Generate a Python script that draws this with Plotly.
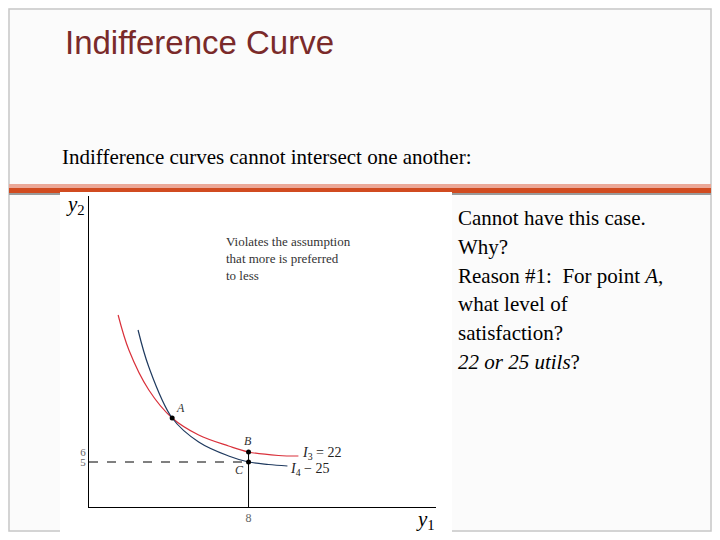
import plotly.graph_objects as go

red_x = [1.46, 2.0, 3.0, 4.17, 5.5, 7.0, 8.0, 9.5, 10.5]
red_y = [19.7, 16.2, 12.2, 9.4, 7.7, 6.6, 6.0, 5.65, 5.6]
blue_x = [2.46, 3.0, 4.17, 5.5, 7.0, 8.0, 9.0, 9.95]
blue_y = [18.2, 14.5, 9.4, 7.0, 5.6, 5.0, 4.75, 4.6]
pts_x = [4.17, 8.0, 8.0]
pts_y = [9.4, 6.0, 5.0]
xticks = [8]
yticks = [5, 6]

W, H = 704, 524
OFF = 8
def px(x): return (x - OFF) / W
def py(y): return 1 - (y - OFF) / H

fig = go.Figure()
fig.add_trace(go.Scatter(x=red_x, y=red_y, mode="lines", line=dict(color="#d9303a", width=1.2, shape="spline"), hoverinfo="skip"))
fig.add_trace(go.Scatter(x=blue_x, y=blue_y, mode="lines", line=dict(color="#1f3a5f", width=1.2, shape="spline"), hoverinfo="skip"))
fig.add_trace(go.Scatter(x=[0, 8], y=[5, 5], mode="lines", line=dict(color="black", width=1, dash="dash"), hoverinfo="skip"))
fig.add_trace(go.Scatter(x=[8, 8], y=[0.5, 6], mode="lines", line=dict(color="black", width=1), hoverinfo="skip"))
fig.add_trace(go.Scatter(x=pts_x, y=pts_y, mode="markers", marker=dict(color="black", size=5), hoverinfo="skip"))

shapes = [
    dict(type="rect", xref="paper", yref="paper", x0=px(9), x1=px(711), y0=0.002, y1=py(9),
         line=dict(color="#c8c8c8", width=1.5), fillcolor="rgba(0,0,0,0)", layer="below"),
    dict(type="rect", xref="paper", yref="paper", x0=px(9), x1=px(711), y0=py(188), y1=py(184),
         line=dict(width=0), fillcolor="#eba898", layer="below"),
    dict(type="rect", xref="paper", yref="paper", x0=px(9), x1=px(711), y0=py(195), y1=py(193),
         line=dict(width=0), fillcolor="#9a9a9a", layer="below"),
    dict(type="rect", xref="paper", yref="paper", x0=px(9), x1=px(711), y0=py(193), y1=py(188),
         line=dict(width=0), fillcolor="#d14b20", layer="below"),
    dict(type="rect", xref="paper", yref="paper", x0=px(60), x1=px(452), y0=0, y1=py(192),
         line=dict(width=0), fillcolor="white", layer="below"),
]

serif = "Liberation Serif, DejaVu Serif, serif"
ann = []
def A(x, y, t, size, color="black", fam=serif, xanchor="left", **k):
    ann.append(dict(xref="paper", yref="paper", x=px(x), y=py(y), text=t, showarrow=False,
                    xanchor=xanchor, yanchor="middle", font=dict(size=size, color=color, family=fam), **k))

A(63, 42, "Indifference Curve", 33, color="#7a2a2a", fam="Liberation Sans, Arial, sans-serif")
A(60, 157, "Indifference curves cannot intersect one another:", 21)
lines = ["Cannot have this case.", "Why?", "Reason #1:  For point <i>A</i>,", "what level of",
         "satisfaction?", "<i>22 or 25 utils</i>?"]
for i, t in enumerate(lines):
    A(456, 218 + i * 28.8, t, 21)
A(64, 205, "<i>y</i><sub>2</sub>", 21)
A(414, 520, "<i>y</i><sub>1</sub>", 21)
A(224, 258, "Violates the assumption<br>that more is preferred<br>to less", 13, color="#333", align="left")
A(180, 408, "<i>A</i>", 12, color="#333", xanchor="center")
A(248, 441, "<i>B</i>", 12, color="#333", xanchor="center")
A(239, 470, "<i>C</i>", 12, color="#333", xanchor="center")
A(300, 453, "<i>I</i><sub>3</sub> = 22", 14, color="#222")
A(288, 469, "<i>I</i><sub>4</sub> − 25", 14, color="#222")

fig.update_layout(
    width=W, height=H, margin=dict(l=0, r=0, t=0, b=0), showlegend=False,
    paper_bgcolor="#fbfbfb", plot_bgcolor="white", shapes=shapes, annotations=ann,
    xaxis=dict(domain=[px(89), px(436)], range=[0, 17.4], showgrid=False, zeroline=False,
               showline=True, linecolor="black", linewidth=1, tickvals=xticks, ticks="",
               tickfont=dict(size=12, family=serif, color="#666")),
    yaxis=dict(domain=[py(507), py(196)], range=[0.5, 31.6], showgrid=False, zeroline=False,
               showline=True, linecolor="black", linewidth=1, tickvals=yticks, ticks="",
               tickfont=dict(size=11, family=serif, color="#666")),
)
fig.write_html("out.html")
